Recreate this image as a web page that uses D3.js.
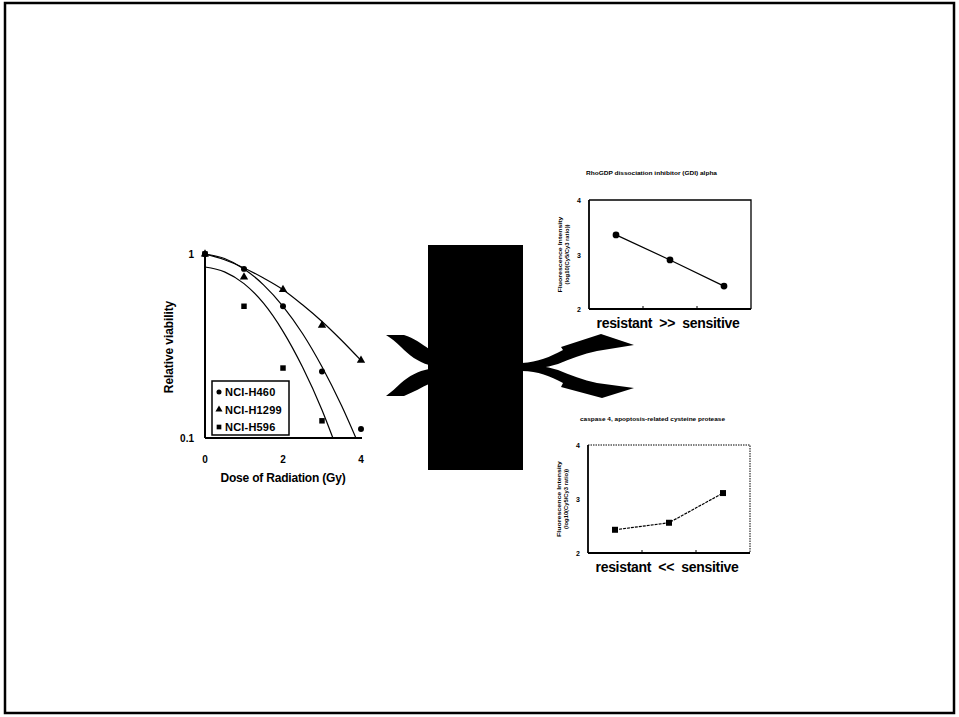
<!DOCTYPE html>
<html>
<head>
<meta charset="utf-8">
<script src="https://cdn.jsdelivr.net/npm/d3@7"></script>
<style>
  html, body { margin: 0; padding: 0; background: #fff; }
  svg { display: block; font-family: 'Liberation Sans', 'DejaVu Sans', sans-serif; }
</style>
</head>
<body>
<svg id="chart" width="959" height="717"></svg>
<script>
// survival data (relative viability vs dose, Gy)
const doses = [0, 1, 2, 3, 4];
const h460 = [1, 0.83, 0.52, 0.23, 0.112];
const h1299 = [1, 0.75, 0.64, 0.41, 0.264];
const h596Doses = [0, 1, 2, 3];
const h596 = [1, 0.52, 0.24, 0.124];

// fitted curves
const fitDosesH460 = [0, 0.5, 1, 1.5, 2, 2.5, 3, 3.5, 3.87];
const fitH460 = [1, 0.945, 0.83, 0.68, 0.52, 0.37, 0.244, 0.15, 0.1];
const fitDosesH1299 = [0, 0.5, 1, 1.5, 2, 2.5, 3, 3.5, 4];
const fitH1299 = [1, 0.93, 0.84, 0.74, 0.64, 0.53, 0.43, 0.34, 0.264];
const fitDosesH596 = [0, 0.5, 1, 1.5, 2, 2.5, 3, 3.28];
const fitH596 = [0.85, 0.8, 0.69, 0.54, 0.38, 0.243, 0.142, 0.1];

const cellLines = ['NCI-H460', 'NCI-H1299', 'NCI-H596'];
const doseTicks = [0, 2, 4];
const viabilityTicks = [1, 0.1];

// expression panels
const groups = [1, 2, 3];
const gdiValues = [3.36, 2.90, 2.42];
const casp4Values = [2.43, 2.56, 3.11];
const exprTicks = [2, 3, 4];

const svg = d3.select('#chart');

// outer frame
svg.append('rect')
  .attr('x', 5).attr('y', 3).attr('width', 949).attr('height', 710)
  .attr('fill', 'none').attr('stroke', '#000').attr('stroke-width', 2.5);

// ---------- survival plot ----------
const x = d3.scaleLinear().domain([0, 4]).range([205, 361]);
const y = d3.scaleLog().domain([0.1, 1]).range([438, 254]);

const left = svg.append('g');
left.append('line').attr('x1', 205).attr('x2', 205).attr('y1', 254).attr('y2', 438)
  .attr('stroke', '#000').attr('stroke-width', 2);
left.append('line').attr('x1', 205).attr('x2', 362).attr('y1', 438).attr('y2', 438)
  .attr('stroke', '#000').attr('stroke-width', 2);

left.selectAll('.xt').data(doseTicks).enter().append('text')
  .attr('x', d => x(d)).attr('y', 463)
  .attr('text-anchor', 'middle').attr('font-size', 10).attr('font-weight', 'bold')
  .text(d => d);
left.selectAll('.yt').data(viabilityTicks).enter().append('text')
  .attr('x', 194).attr('y', d => y(d) + 4)
  .attr('text-anchor', 'end').attr('font-size', 10).attr('font-weight', 'bold')
  .text(d => d);

left.append('text').attr('x', 283).attr('y', 482).attr('text-anchor', 'middle')
  .attr('font-size', 12).attr('font-weight', 'bold').attr('letter-spacing', -0.2)
  .text('Dose of Radiation (Gy)');
left.append('text').attr('transform', 'translate(173,347) rotate(-90)')
  .attr('text-anchor', 'middle').attr('font-size', 12).attr('font-weight', 'bold')
  .attr('letter-spacing', -0.1)
  .text('Relative viability');

const line = d3.line().x(d => x(d[0])).y(d => y(d[1])).curve(d3.curveMonotoneX);
const fits = [
  d3.zip(fitDosesH460, fitH460),
  d3.zip(fitDosesH1299, fitH1299),
  d3.zip(fitDosesH596, fitH596)
];
left.selectAll('.fit').data(fits).enter().append('path')
  .attr('d', line).attr('fill', 'none').attr('stroke', '#000').attr('stroke-width', 1.2);

const series = [
  { pts: d3.zip(doses, h460), sym: d3.symbolCircle, size: 28 },
  { pts: d3.zip(doses, h1299), sym: d3.symbolTriangle, size: 30 },
  { pts: d3.zip(h596Doses, h596), sym: d3.symbolSquare, size: 30 }
];
series.forEach(s => {
  left.selectAll(null).data(s.pts).enter().append('path')
    .attr('transform', d => `translate(${x(d[0])},${y(d[1])})`)
    .attr('d', d3.symbol().type(s.sym).size(s.size)).attr('fill', '#000');
});

// legend
const lg = left.append('g');
lg.append('rect').attr('x', 212).attr('y', 381).attr('width', 77).attr('height', 54)
  .attr('fill', '#fff').attr('stroke', '#000').attr('stroke-width', 1.5);
cellLines.forEach((name, i) => {
  const yy = 392 + i * 17.5;
  lg.append('path').attr('transform', `translate(219,${yy})`)
    .attr('d', d3.symbol().type(series[i].sym).size(series[i].size - 8)).attr('fill', '#000');
  lg.append('text').attr('x', 225).attr('y', yy + 4).attr('font-size', 11)
    .attr('font-weight', 'bold').attr('letter-spacing', 0.2).text(name);
});

// ---------- black box with arrows ----------
const mid = svg.append('g').attr('fill', '#000');
mid.append('rect').attr('x', 428).attr('y', 245).attr('width', 95).attr('height', 225);
// incoming arrows (left)
mid.append('path').attr('d',
  'M386,335 L404,335 C414,338 422,344 429,349 L429,365 C418,362 409,355 401,347 C396,342 391,338 386,335 Z');
mid.append('path').attr('d',
  'M386,396 C391,392 396,388 401,383 C409,376 418,371 429,369 L429,384 C422,387 414,392 404,396 Z');
// outgoing arrows (right)
mid.append('path').attr('d',
  'M522,363 C538,362 550,357 563,350 L561,347 L601,334 L634,345 L597,351 C583,354 570,359 558,364 C545,368 535,369 522,369 Z');
mid.append('path').attr('d',
  'M522,365 C535,365 545,366 558,370 C570,375 583,380 597,383 L634,388 L602,398 L561,387 L563,383 C550,376 538,371 522,371 Z');

// ---------- expression panels ----------
function panel(cfg) {
  const g = svg.append('g');
  const px = d3.scaleLinear().domain([0.5, 3.5]).range([cfg.x0, cfg.x1]);
  const py = d3.scaleLinear().domain([2, 4]).range([cfg.y1, cfg.y0]);

  g.append('text').attr('x', (cfg.tx0 + cfg.tx1) / 2).attr('y', cfg.ty)
    .attr('text-anchor', 'middle').attr('font-size', 6).attr('font-weight', 'bold')
    .attr('textLength', cfg.tx1 - cfg.tx0).attr('lengthAdjust', 'spacingAndGlyphs')
    .text(cfg.title);

  // frame: left and bottom solid, top and right maybe dotted
  g.append('line').attr('x1', cfg.x0).attr('x2', cfg.x0).attr('y1', cfg.y0).attr('y2', cfg.y1)
    .attr('stroke', '#000').attr('stroke-width', 1.8);
  g.append('line').attr('x1', cfg.x0).attr('x2', cfg.x1).attr('y1', cfg.y1).attr('y2', cfg.y1)
    .attr('stroke', '#000').attr('stroke-width', 1.8);
  g.append('path')
    .attr('d', `M${cfg.x0},${cfg.y0}H${cfg.x1}V${cfg.y1}`)
    .attr('fill', 'none').attr('stroke', '#000').attr('stroke-width', cfg.dotted ? 1 : 1.3)
    .attr('stroke-dasharray', cfg.dotted ? '1.5,1' : null);

  // minor ticks between groups
  g.selectAll(null).data([1.5, 2.5]).enter().append('line')
    .attr('x1', d => px(d)).attr('x2', d => px(d)).attr('y1', cfg.y1).attr('y2', cfg.y1 - 3)
    .attr('stroke', '#000').attr('stroke-width', 1);

  g.selectAll(null).data(exprTicks).enter().append('text')
    .attr('x', cfg.x0 - 8).attr('y', d => py(d) + 3)
    .attr('text-anchor', 'end').attr('font-size', 7).attr('font-weight', 'bold')
    .text(d => d);

  const cy = (cfg.y0 + cfg.y1) / 2;
  const yl = g.append('text').attr('transform', `translate(${cfg.x0 - 27},${cy}) rotate(-90)`)
    .attr('text-anchor', 'middle').attr('font-size', 5.5).attr('font-weight', 'bold');
  yl.append('tspan').attr('x', 0).attr('dy', 0)
    .attr('textLength', 76).attr('lengthAdjust', 'spacingAndGlyphs')
    .text('Fluorescence Intensity');
  yl.append('tspan').attr('x', 0).attr('dy', 7)
    .attr('textLength', 60).attr('lengthAdjust', 'spacingAndGlyphs')
    .text('(log10(Cy5/Cy3 ratio))');

  const ln = d3.line().x((d, i) => px(groups[i])).y(d => py(d));
  g.append('path').attr('d', ln(cfg.values)).attr('fill', 'none').attr('stroke', '#000')
    .attr('stroke-width', 1.2).attr('stroke-dasharray', cfg.dotted ? '3,1' : null);
  g.selectAll(null).data(cfg.values).enter().append('path')
    .attr('transform', (d, i) => `translate(${px(groups[i])},${py(d)})`)
    .attr('d', d3.symbol().type(cfg.sym).size(cfg.symSize)).attr('fill', '#000');

  g.append('text').attr('x', (cfg.x0 + cfg.x1) / 2 - 2).attr('y', cfg.y1 + 19)
    .attr('text-anchor', 'middle').attr('font-size', 14).attr('font-weight', 'bold')
    .attr('letter-spacing', -0.3).style('white-space', 'pre')
    .text(cfg.xlabel);
}

panel({
  x0: 589, x1: 751, y0: 200, y1: 309,
  title: 'RhoGDP dissociation inhibitor (GDI) alpha', tx0: 586, tx1: 717, ty: 175,
  values: gdiValues, sym: d3.symbolCircle, symSize: 36, dotted: false,
  xlabel: 'resistant  >>  sensitive'
});
panel({
  x0: 588, x1: 750, y0: 445, y1: 553,
  title: 'caspase 4, apoptosis-related cysteine protease', tx0: 580, tx1: 725, ty: 421,
  values: casp4Values, sym: d3.symbolSquare, symSize: 36, dotted: true,
  xlabel: 'resistant  <<  sensitive'
});
</script>
</body>
</html>
